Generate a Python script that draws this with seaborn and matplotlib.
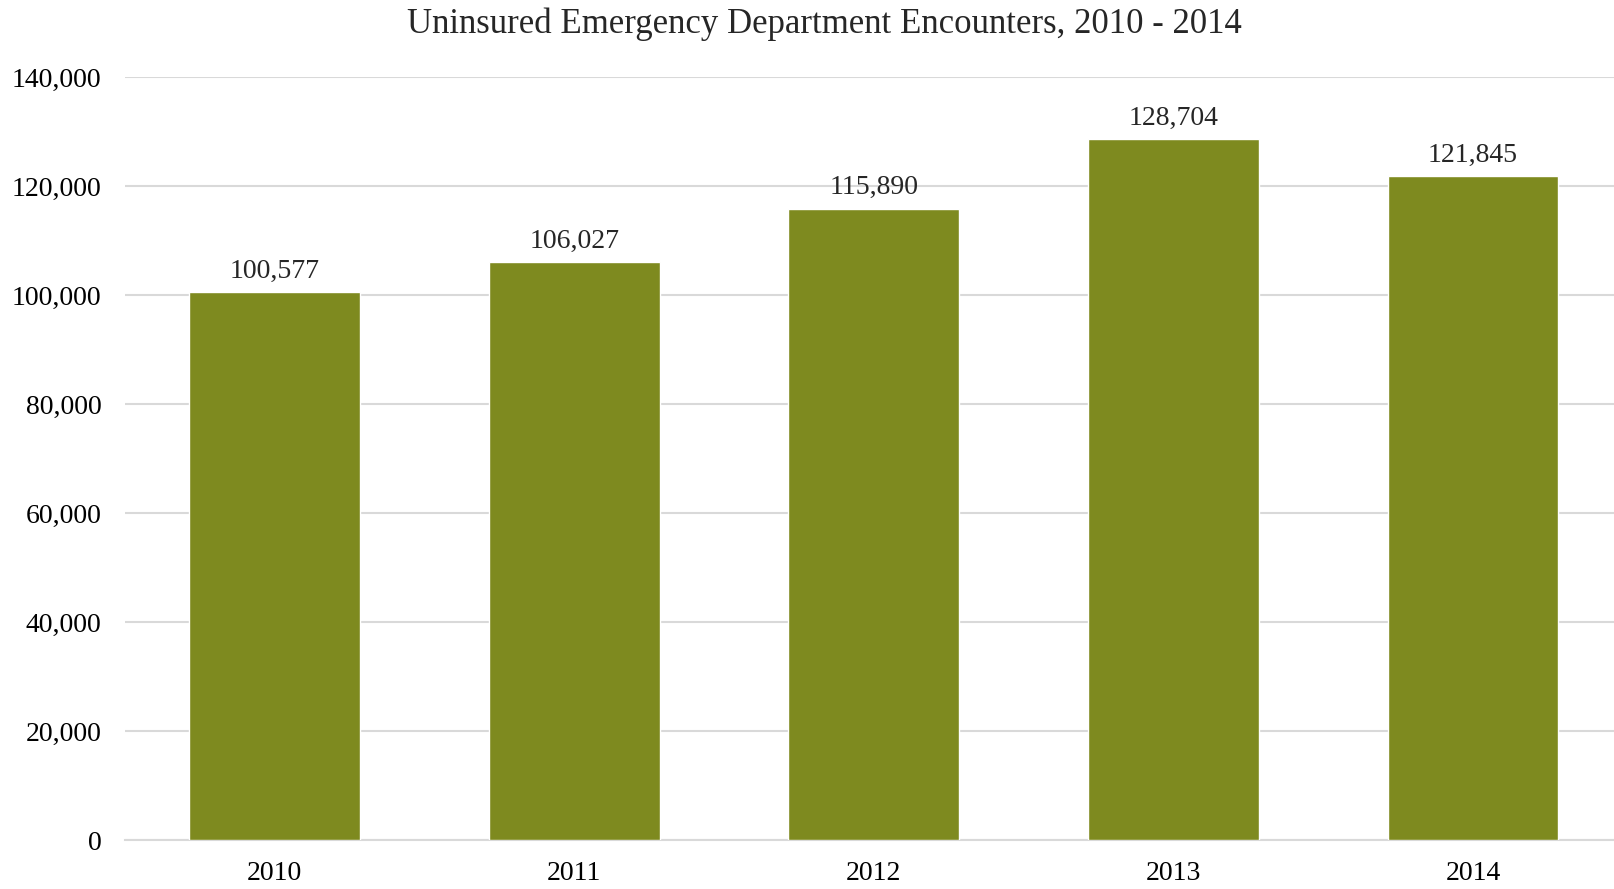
import numpy as np
import pandas as pd
import matplotlib
matplotlib.use("Agg")
import matplotlib.pyplot as plt
import seaborn as sns

years = ["2010", "2011", "2012", "2013", "2014"]
encounters = [100577, 106027, 115890, 128704, 121845]

df = pd.DataFrame({"year": years, "encounters": encounters})

sns.set_style("white")
plt.rcParams['font.family'] = ['Liberation Serif', 'DejaVu Serif']

fig = plt.figure(figsize=(16.14, 8.89), dpi=100)
ax = fig.add_axes([0.0774, 0.055, 0.928, 0.858])

sns.barplot(data=df, x="year", y="encounters", color="#7E8A1F", width=0.57,
            saturation=1, ax=ax, zorder=3)

ax.set_ylim(0, 140000)
ax.set_xlim(-0.5, 4.5)
ax.set_yticks(np.arange(0, 140001, 20000))
ax.set_yticklabels([f"{v:,}" for v in range(0, 140001, 20000)], fontsize=20)
ax.set_xticks(range(len(years)))
ax.set_xticklabels(years, fontsize=20)
ax.set_xlabel("")
ax.set_ylabel("")
ax.grid(axis="y", color="#D9D9D9", linewidth=1.5, zorder=0)
ax.tick_params(axis="y", length=0, pad=17, colors="black")
ax.tick_params(axis="x", length=0, pad=15, colors="black")
for s in ["top", "right", "left"]:
    ax.spines[s].set_visible(False)
ax.spines["bottom"].set_color("#D9D9D9")
ax.spines["bottom"].set_linewidth(1.5)

for i, v in enumerate(encounters):
    ax.annotate(f"{v:,}", (i, v), xytext=(0, 6), textcoords="offset points",
                ha="center", va="bottom", fontsize=20)

fig.suptitle("Uninsured Emergency Department Encounters, 2010 - 2014",
             fontsize=25, x=0.511, y=0.992, va="top")

fig.savefig("out.png", dpi=100)
